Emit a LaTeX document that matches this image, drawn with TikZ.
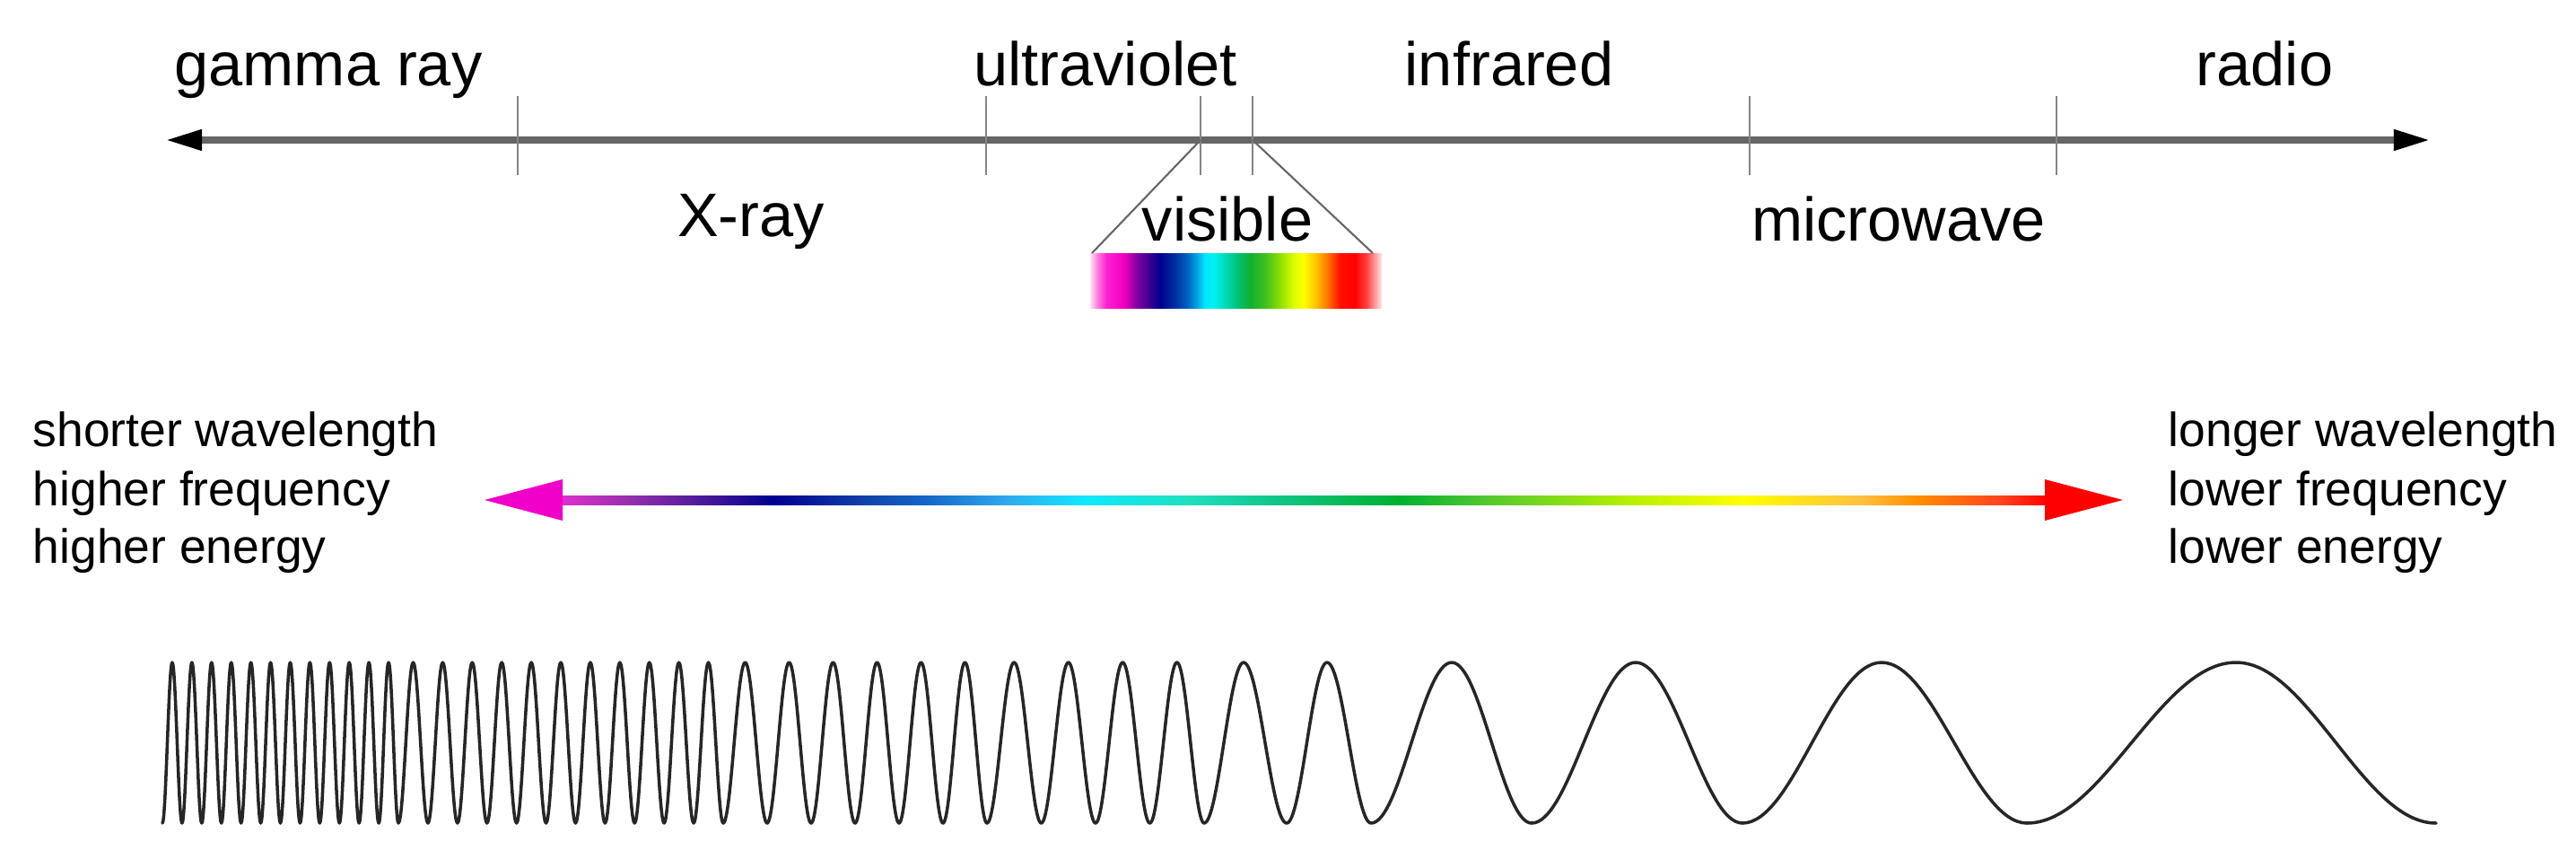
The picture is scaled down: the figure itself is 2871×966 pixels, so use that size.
\documentclass[tikz,border=0pt]{standalone}
\usepackage{fontspec}
\setmainfont{Liberation Sans}
\usetikzlibrary{arrows.meta}
\definecolor{axisgray}{HTML}{666666}
\definecolor{tickgray}{HTML}{858585}
\definecolor{headmag}{HTML}{F000C8}
\definecolor{headred}{HTML}{FF0000}
% arrow gradient
\definecolor{ag01}{HTML}{E030D0}
\definecolor{ag02}{HTML}{A030B0}
\definecolor{ag03}{HTML}{5A1E9C}
\definecolor{ag04}{HTML}{000090}
\definecolor{ag05}{HTML}{1040A8}
\definecolor{ag06}{HTML}{1468C8}
\definecolor{ag07}{HTML}{30A8EC}
\definecolor{ag08}{HTML}{10E8FF}
\definecolor{ag09}{HTML}{20E0C0}
\definecolor{ag10}{HTML}{10C890}
\definecolor{ag11}{HTML}{00B030}
\definecolor{ag12}{HTML}{50C830}
\definecolor{ag13}{HTML}{B8F000}
\definecolor{ag14}{HTML}{FFFF00}
\definecolor{ag15}{HTML}{FFC040}
\definecolor{ag16}{HTML}{FF9000}
\definecolor{ag17}{HTML}{FF4020}
\definecolor{ag18}{HTML}{FF0000}
% visible spectrum
\definecolor{vs01}{HTML}{FFE4F4}
\definecolor{vs02}{HTML}{FF80E0}
\definecolor{vs03}{HTML}{FF20D0}
\definecolor{vs04}{HTML}{F000C0}
\definecolor{vs05}{HTML}{8000A0}
\definecolor{vs06}{HTML}{400090}
\definecolor{vs07}{HTML}{000090}
\definecolor{vs08}{HTML}{0030A0}
\definecolor{vs09}{HTML}{0060C0}
\definecolor{vs10}{HTML}{00A0E0}
\definecolor{vs11}{HTML}{00E8FF}
\definecolor{vs12}{HTML}{00F0F0}
\definecolor{vs13}{HTML}{00D8B0}
\definecolor{vs14}{HTML}{00C070}
\definecolor{vs15}{HTML}{10B030}
\definecolor{vs16}{HTML}{40C020}
\definecolor{vs17}{HTML}{90E000}
\definecolor{vs18}{HTML}{E0FF00}
\definecolor{vs19}{HTML}{FFFF00}
\definecolor{vs20}{HTML}{FFC000}
\definecolor{vs21}{HTML}{FF7000}
\definecolor{vs22}{HTML}{FF1000}
\definecolor{vs23}{HTML}{FF0000}
\definecolor{vs24}{HTML}{FF4040}
\definecolor{vs25}{HTML}{FFA0A0}
\definecolor{vs26}{HTML}{FFE8E8}
\pgfdeclarehorizontalshading{arrowgrad}{100bp}{color(0bp)=(ag01); color(25bp)=(ag01); color(27bp)=(ag02); color(29.3bp)=(ag03); color(32.2bp)=(ag04); color(35.2bp)=(ag05); color(37.4bp)=(ag06); color(40bp)=(ag07); color(42.6bp)=(ag08); color(46.1bp)=(ag09); color(48.7bp)=(ag10); color(53.2bp)=(ag11); color(56.1bp)=(ag12); color(61bp)=(ag13); color(64.8bp)=(ag14); color(68.7bp)=(ag15); color(70.6bp)=(ag16); color(73.5bp)=(ag17); color(75bp)=(ag18); color(100bp)=(ag18)}
\pgfdeclarehorizontalshading{visgrad}{100bp}{color(0bp)=(vs01); color(25bp)=(vs01); color(26.2bp)=(vs02); color(27.8bp)=(vs03); color(30.8bp)=(vs04); color(33bp)=(vs05); color(35bp)=(vs06); color(37bp)=(vs07); color(39.6bp)=(vs08); color(41.6bp)=(vs09); color(43.2bp)=(vs10); color(44.7bp)=(vs11); color(46.2bp)=(vs12); color(48.4bp)=(vs13); color(50.4bp)=(vs14); color(52.4bp)=(vs15); color(55bp)=(vs16); color(57.6bp)=(vs17); color(60bp)=(vs18); color(61.6bp)=(vs19); color(63.8bp)=(vs20); color(65.8bp)=(vs21); color(67.8bp)=(vs22); color(70.4bp)=(vs23); color(72.4bp)=(vs24); color(73.9bp)=(vs25); color(75bp)=(vs26); color(100bp)=(vs26)}
\begin{document}
\begin{tikzpicture}[x=0.01cm,y=-0.01cm,
  toplabel/.style={font=\fontsize{19.5}{23}\selectfont, inner sep=0pt, anchor=base},
  sidelabel/.style={font=\fontsize{15.2}{18}\selectfont, inner sep=0pt, anchor=base west},
  tickline/.style={draw=tickgray, line width=0.6pt},
  axisline/.style={draw=axisgray, line width=2pt,
    arrows={Triangle[length=11.4pt,width=6.3pt,black]-Triangle[length=11.4pt,width=6.3pt,black]}},
  zoomline/.style={draw=axisgray, line width=0.6pt},
  wave/.style={draw=black!85, line width=1pt, line join=round, line cap=round}]
\useasboundingbox (0,0) rectangle (2871,966);
% main axis
\coordinate (axL) at (185,156);
\coordinate (axR) at (2708,156);
\draw[axisline] (axL) -- (axR);
% ticks
\foreach \t in {577,1099,1338,1396,1950,2292}
  \draw[tickline] (\t,107) -- (\t,195);
% labels above / below
\node[toplabel] (gamma) at (366,95) {gamma ray};
\node[toplabel] (uv) at (1232,95) {ultraviolet};
\node[toplabel] (ir) at (1682,95) {infrared};
\node[toplabel] (radio) at (2524,95) {radio};
\node[toplabel] (xray) at (837,263) {X-ray};
\node[toplabel] (vis) at (1368,268) {visible};
\node[toplabel] (micro) at (2116,268) {microwave};
% visible spectrum
\coordinate (vL) at (1338,156);
\coordinate (vR) at (1396,156);
\coordinate (sTL) at (1217,282);
\coordinate (sTR) at (1530,282);
\shade[shading=visgrad] (1215,282) rectangle (1540,343);
\draw[zoomline] (vL) -- (sTL);
\draw[zoomline] (vR) -- (sTR);
% gradient double arrow
\coordinate (arL) at (540,557);
\coordinate (arR) at (2366,557);
\shade[shading=arrowgrad] (624,552) rectangle (2281,562);
\fill[headmag] (arL) -- (627,534) -- (627,580) -- cycle;
\fill[headred] (arR) -- (2279,534) -- (2279,580) -- cycle;
% side texts
\node[sidelabel] (l1) at (36,497) {shorter wavelength};
\node[sidelabel] (l2) at (36,563) {higher frequency};
\node[sidelabel] (l3) at (36,627) {higher energy};
\node[sidelabel] (r1) at (2416,497) {longer wavelength};
\node[sidelabel] (r2) at (2416,563) {lower frequency};
\node[sidelabel] (r3) at (2416,627) {lower energy};
% wave
\draw[wave] (181,917)
  foreach \i in {1,...,24} { cos ({181+(\i-0.5)*10.96},827.5) sin ({181+\i*10.96},{827.5+89.5*cos(180*\i)}) }
  foreach \i in {1,...,22} { cos ({444.04+(\i-0.5)*16.453},827.5) sin ({444.04+\i*16.453},{827.5+89.5*cos(180*\i)}) }
  foreach \i in {1,...,12} { cos ({806+(\i-0.5)*24.5},827.5) sin ({806+\i*24.5},{827.5+89.5*cos(180*\i)}) }
  foreach \i in {1,...,8} { cos ({1100+(\i-0.5)*30.25},827.5) sin ({1100+\i*30.25},{827.5+89.5*cos(180*\i)}) }
  foreach \x/\y [remember=\x as \lx (initially 1342)] in {1386/738,1434/917,1479/738,1528/917,1618/738,1707/917,1823/738,1942/917,2097/738,2259/917,2492/738,2715/917} { cos ({(\lx+\x)/2},827.5) sin (\x,\y) };
\end{tikzpicture}
\end{document}
